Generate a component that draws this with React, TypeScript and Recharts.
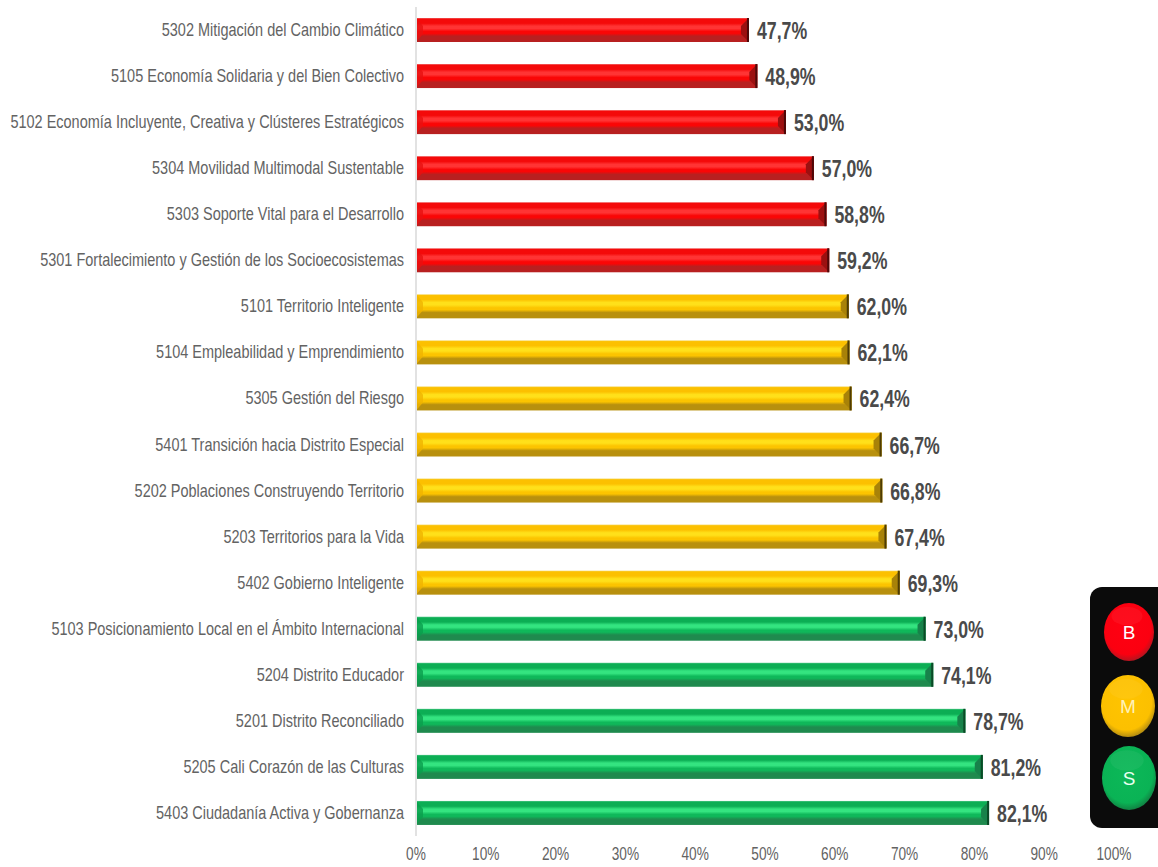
import React from 'react';
import { BarChart, Bar, XAxis, YAxis, LabelList } from 'recharts';

const categories = [
  '5302 Mitigación del Cambio Climático',
  '5105 Economía Solidaria y del Bien Colectivo',
  '5102 Economía Incluyente, Creativa y Clústeres Estratégicos',
  '5304 Movilidad Multimodal Sustentable',
  '5303 Soporte Vital para el Desarrollo',
  '5301 Fortalecimiento y Gestión de los Socioecosistemas',
  '5101 Territorio Inteligente',
  '5104 Empleabilidad y Emprendimiento',
  '5305 Gestión del Riesgo',
  '5401 Transición hacia Distrito Especial',
  '5202 Poblaciones Construyendo Territorio',
  '5203 Territorios para la Vida',
  '5402 Gobierno Inteligente',
  '5103 Posicionamiento Local en el Ámbito Internacional',
  '5204 Distrito Educador',
  '5201 Distrito Reconciliado',
  '5205 Cali Corazón de las Culturas',
  '5403 Ciudadanía Activa y Gobernanza',
];
const values = [47.7, 48.9, 53.0, 57.0, 58.8, 59.2, 62.0, 62.1, 62.4, 66.7, 66.8, 67.4, 69.3, 73.0, 74.1, 78.7, 81.2, 82.1];
const levels = ['B', 'B', 'B', 'B', 'B', 'B', 'M', 'M', 'M', 'M', 'M', 'M', 'M', 'S', 'S', 'S', 'S', 'S'];
const xTicks = [0, 10, 20, 30, 40, 50, 60, 70, 80, 90, 100];

const data = categories.map((name, i) => ({ name, value: values[i], level: levels[i] }));

const palette: Record<string, { edge: string; top: string; light: string; mid: string; low: string; bevel: string; dark: string; left: string }> = {
  B: { edge: '#f06060', top: '#f40a0a', light: '#ff3434', mid: '#fa0606', low: '#b82020', bevel: '#9c1010', dark: '#4e0808', left: '#e81010' },
  M: { edge: '#f5d860', top: '#fcc000', light: '#ffe01a', mid: '#fcc400', low: '#b8900e', bevel: '#a88208', dark: '#4e3c04', left: '#f0b400' },
  S: { edge: '#50c888', top: '#0cae54', light: '#34e480', mid: '#0fb85a', low: '#1f8a4e', bevel: '#17824a', dark: '#0a4a26', left: '#0a9e4c' },
};

const font = '"Liberation Sans", Arial, sans-serif';

// beveled bar like the excel 3d style
const BevelBar = (props: any) => {
  const { x, y, width, height, level } = props;
  const c = palette[level];
  const b = 8;
  return (
    <g>
      <rect x={x} y={y} width={width} height={height} fill={`url(#grad${level})`} />
      <polygon points={`${x},${y} ${x + b - 1},${y + b} ${x + b - 1},${y + height - b} ${x},${y + height}`} fill={c.left} opacity={0.8} />
      <polygon
        points={`${x + width},${y} ${x + width - b},${y + b} ${x + width - b},${y + height - b} ${x + width},${y + height}`}
        fill={c.bevel}
      />
      <rect x={x + width - 2} y={y} width={2} height={height} fill={c.dark} />
    </g>
  );
};

// no narrow font installed, so squeeze the text horizontally
const CategoryTick = ({ x, y, payload }: any) => (
  <text
    transform={`translate(${x}, ${y + 6}) scale(0.805, 1)`}
    textAnchor="end"
    fontSize={18}
    fill="#636363"
    fontFamily={font}
  >
    {payload.value}
  </text>
);

const PercentTick = ({ x, y, payload }: any) => (
  <text transform={`translate(${x}, ${y + 16}) scale(0.76, 1)`} textAnchor="middle" fontSize={18} fill="#636363" fontFamily={font}>
    {payload.value}%
  </text>
);

const ValueLabel = ({ x, y, width, height, value }: any) => (
  <text
    transform={`translate(${x + width + 8}, ${y + height / 2 + 9}) scale(0.77, 1)`}
    fontSize={23}
    fontWeight={700}
    fill="#4a4a4a"
    fontFamily={font}
  >
    {value.toFixed(1).replace('.', ',')}%
  </text>
);

const Lamp = ({ cx, cy, rx, ry, id, label, color }: any) => (
  <g>
    <ellipse cx={cx} cy={cy} rx={rx} ry={ry} fill={`url(#lamp${id})`} />
    <ellipse cx={cx - 2} cy={cy - ry * 0.55} rx={rx * 0.62} ry={ry * 0.32} fill="#ffffff" opacity={0.05} />
    <text x={cx} y={cy + 7} textAnchor="middle" fontSize={19} fill={color} fontFamily={font}>
      {label}
    </text>
  </g>
);

export default function App() {
  return (
    <div style={{ position: 'absolute', left: 0, top: 0, width: 1158, height: 867, background: '#fff', overflow: 'hidden' }}>
      <BarChart
        width={1158}
        height={867}
        layout="vertical"
        data={data}
        barSize={24}
        margin={{ top: 7, right: 44, bottom: 0, left: 0 }}
      >
        <defs>
          {Object.keys(palette).map((k) => (
            <linearGradient key={k} id={`grad${k}`} x1="0" y1="0" x2="0" y2="1">
              <stop offset="0" stopColor={palette[k].edge} />
              <stop offset="0.05" stopColor={palette[k].top} />
              <stop offset="0.22" stopColor={palette[k].top} />
              <stop offset="0.34" stopColor={palette[k].light} />
              <stop offset="0.44" stopColor={palette[k].light} />
              <stop offset="0.56" stopColor={palette[k].mid} />
              <stop offset="0.64" stopColor={palette[k].mid} />
              <stop offset="0.76" stopColor={palette[k].low} />
              <stop offset="1" stopColor={palette[k].low} />
            </linearGradient>
          ))}
        </defs>
        <XAxis
          type="number"
          domain={[0, 100]}
          ticks={xTicks}
          axisLine={false}
          tickLine={false}
          tick={PercentTick}
          height={31}
          interval={0}
        />
        <YAxis
          type="category"
          dataKey="name"
          width={416}
          interval={0}
          axisLine={{ stroke: '#e2e2e2', strokeWidth: 2 }}
          tickLine={false}
          tickSize={0}
          tickMargin={12}
          tick={CategoryTick}
        />
        <Bar dataKey="value" isAnimationActive={false} shape={BevelBar}>
          <LabelList dataKey="value" content={ValueLabel} />
        </Bar>
      </BarChart>
      <svg width={1158} height={867} style={{ position: 'absolute', left: 0, top: 0, pointerEvents: 'none' }}>
        <defs>
          <radialGradient id="lampB" cx="0.47" cy="0.42" r="0.6">
            <stop offset="0" stopColor="#ff0012" />
            <stop offset="0.78" stopColor="#fb0010" />
            <stop offset="1" stopColor="#a81822" />
          </radialGradient>
          <radialGradient id="lampM" cx="0.47" cy="0.42" r="0.6">
            <stop offset="0" stopColor="#ffc400" />
            <stop offset="0.78" stopColor="#fcc000" />
            <stop offset="1" stopColor="#a88414" />
          </radialGradient>
          <radialGradient id="lampS" cx="0.47" cy="0.42" r="0.6">
            <stop offset="0" stopColor="#0cb858" />
            <stop offset="0.78" stopColor="#0ab355" />
            <stop offset="1" stopColor="#127a40" />
          </radialGradient>
        </defs>
        <rect x={1090} y={587} width={90} height={241} rx={12} fill="#0b0b0b" />
        <Lamp cx={1129} cy={632} rx={25} ry={29} id="B" label="B" color="#ffffff" />
        <Lamp cx={1128} cy={706} rx={27} ry={31} id="M" label="M" color="#fff2b8" />
        <Lamp cx={1129} cy={778} rx={27} ry={32} id="S" label="S" color="#e8fff0" />
      </svg>
    </div>
  );
}
